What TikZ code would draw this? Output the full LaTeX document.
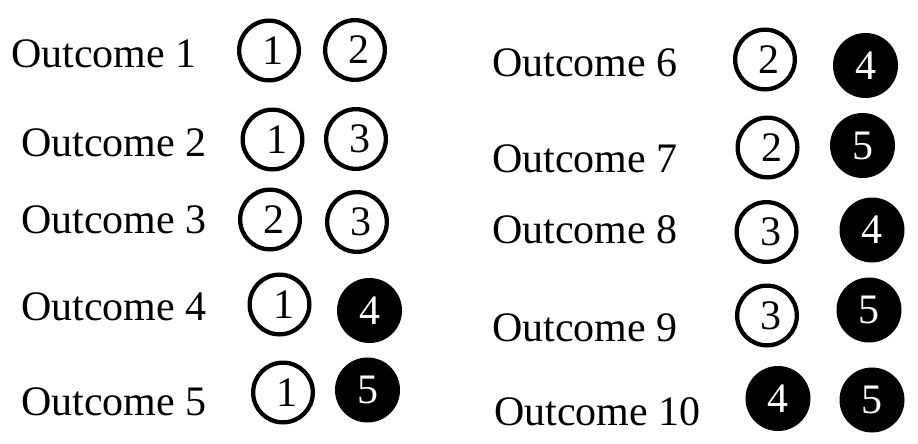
\documentclass[tikz,border=0pt]{standalone}
\usepackage{fontspec}
\setmainfont{Liberation Serif}
\tikzset{
  outc/.style={anchor=base west,inner sep=0pt,font=\fontsize{42}{42}\selectfont},
  wball/.style={circle,draw,line width=4.3pt,minimum size=59.7pt,inner sep=0pt,
    font=\fontsize{42}{42}\selectfont,execute at begin node={\hspace*{8pt}}},
  bball/.style={circle,fill=black,text=white,minimum size=65pt,inner sep=0pt,
    font=\fontsize{42}{42}\selectfont}
}
\begin{document}
\begin{tikzpicture}[x=1pt,y=-1pt]
   \useasboundingbox (0,0) rectangle (918,444);
   % outcome labels
   \foreach \n/\x/\y in
     { 1/11/67, 2/21/156, 3/21/233, 4/21/320, 5/21/415,
       6/492/77, 7/492/172, 8/492/243, 9/492/341, 10/494/425
     }
     \node[outc] (out\n) at (\x,\y) {Outcome \n};
   % the two balls drawn in each outcome
   \foreach \n/\sa/\ka/\xa/\ya/\sb/\kb/\xb/\yb in
     { 1/wball/1/269/50.5/wball/2/355/50,
       2/wball/1/272.5/139.5/wball/3/356/139,
       3/wball/2/270/219.5/wball/3/357/222,
       4/wball/1/279.5/304.5/bball/4/369.5/310.5,
       5/wball/1/283/392.5/bball/5/367.5/390,
       6/wball/2/765/59.5/bball/4/865.5/65.5,
       7/wball/2/767.5/147.5/bball/5/862.5/145.5,
       8/wball/3/766.5/232/bball/4/872/230,
       9/wball/3/767/315.5/bball/5/869/310,
      10/bball/4/778/398.5/bball/5/872/400
     }
     {
     \node[\sa] (out\n a) at (\xa,\ya) {\ka};
     \node[\sb] (out\n b) at (\xb,\yb) {\kb};
     }
\end{tikzpicture}
\end{document}
